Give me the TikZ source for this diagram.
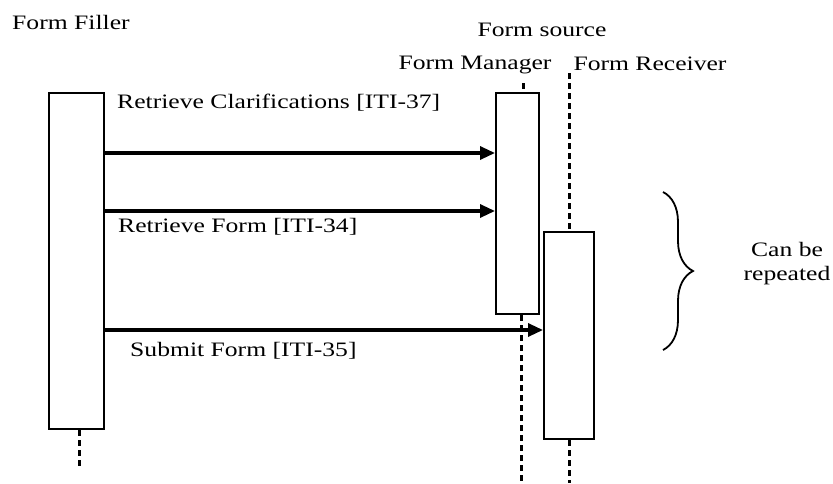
\documentclass[tikz,border=0pt]{standalone}
\usepackage{fontspec}
\setmainfont{Liberation Serif}[FakeStretch=1.25]
\usetikzlibrary{arrows.meta}
\usetikzlibrary{decorations.pathreplacing}

\begin{document}
\begin{tikzpicture}[
        x=1pt, y=-1pt,
        every node/.style={font=\fontsize{20.5}{24}\selectfont, inner sep=0pt},
        bar/.style={draw, line width=2pt, fill=white},
        life/.style={line width=3pt, dash pattern=on 6pt off 4pt},
        msg/.style={line width=3.2pt, -{Triangle[length=15pt,width=13pt]}},
    ]
        \useasboundingbox (0,0) rectangle (833,483);

        % Lifeline titles
        \node[anchor=west] (fillertitle) at (12,22) {Form Filler};
        \node (sourcetitle) at (542,30) {Form source};
        \node (managertitle) at (475,65) {Form Manager};
        \node (receivertitle) at (650,64) {Form Receiver};

        % Activation bars
        \node[bar, minimum width=55pt, minimum height=336pt] (filler) at (76.5,261) {};
        \node[bar, minimum width=43pt, minimum height=221pt] (manager) at (517.5,203.5) {};
        \node[bar, minimum width=50pt, minimum height=207pt] (receiver) at (569,335.5) {};

        % Lifelines
        \coordinate (fillerend) at (79,469);
        \coordinate (managertop) at (523,83);
        \coordinate (managerend) at (521,483);
        \coordinate (receivertop) at (569,73);
        \coordinate (receiverend) at (569,483);
        \draw[life] (fillerend |- filler.south) -- (fillerend);
        \draw[life] (managertop) -- (managertop |- manager.north);
        \draw[life] (managerend |- manager.south) -- (managerend);
        \draw[life] (receivertop) -- (receiver.north);
        \draw[life] (receiver.south) -- (receiverend);

        % Messages
        \draw[msg] (filler.east |- 0,153) -- (manager.west |- 0,153);
        \draw[msg] (filler.east |- 0,211) -- (manager.west |- 0,211);
        \draw[msg] (filler.east |- 0,330) -- (receiver.west |- 0,330);
        \node[anchor=west] (clarif) at (117,103) {Retrieve Clarifications [ITI-37]};
        \node[anchor=west] (retrieve) at (118,227) {Retrieve Form [ITI-34]};
        \node[anchor=west] (submit) at (130,351) {Submit Form [ITI-35]};

        % Repeat brace
        \coordinate (bracetop) at (663,192);
        \coordinate (bracebot) at (663,350);
        \draw[line width=1.8pt, decorate, decoration={brace, amplitude=30pt}] (bracetop) -- (bracebot);
        \node[align=center] (repeat) at (787,264) {Can be\\repeated};
    \end{tikzpicture}
\end{document}
